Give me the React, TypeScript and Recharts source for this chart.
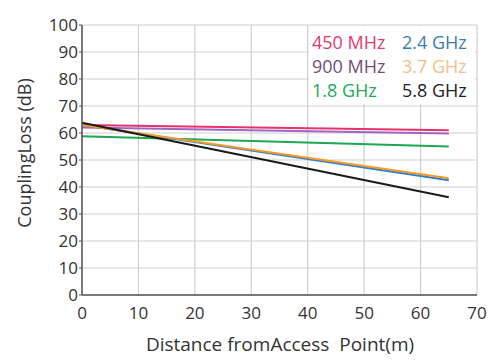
import React from "react";
import {
  LineChart,
  Line,
  XAxis,
  YAxis,
  CartesianGrid,
  Legend,
} from "recharts";

const distances = [0, 65];
const loss450 = [63, 61];
const loss900 = [62, 59.8];
const loss1800 = [58.8, 55];
const loss2400 = [63, 42.5];
const loss3700 = [63, 43.2];
const loss5800 = [63.8, 36.2];

const xTicks = [0, 10, 20, 30, 40, 50, 60, 70];
const yTicks = [0, 10, 20, 30, 40, 50, 60, 70, 80, 90, 100];

const series = [
  { key: "f1800", name: "1.8 GHz", color: "#1da653", text: "#22a85a", values: loss1800 },
  { key: "f900", name: "900 MHz", color: "#a066c0", text: "#6e4f78", values: loss900 },
  { key: "f450", name: "450 MHz", color: "#e8306a", text: "#e23a6c", values: loss450 },
  { key: "f2400", name: "2.4 GHz", color: "#2a7fcf", text: "#3d7ea6", values: loss2400 },
  { key: "f3700", name: "3.7 GHz", color: "#f49a28", text: "#f0c088", values: loss3700 },
  { key: "f5800", name: "5.8 GHz", color: "#1a1a1a", text: "#222222", values: loss5800 },
];

// legend reads column by column: 450/900/1.8 then 2.4/3.7/5.8
const legendOrder = ["f450", "f900", "f1800", "f2400", "f3700", "f5800"];

const data = distances.map((d, i) => {
  const row: any = { dist: d };
  series.forEach((s) => (row[s.key] = s.values[i]));
  return row;
});

const FONT = "'Open Sans', sans-serif";

const LegendBox = () => (
  <div
    style={{
      display: "grid",
      gridTemplateColumns: "90px 76px",
      gridTemplateRows: "24px 24px 24px",
      gridAutoFlow: "column",
      fontFamily: FONT,
      fontSize: 18,
      lineHeight: "24px",
      paddingLeft: 3,
      paddingTop: 4,
    }}
  >
    {legendOrder.map((k) => {
      const s = series.find((x) => x.key === k)!;
      return (
        <span key={k} style={{ color: s.text, whiteSpace: "nowrap" }}>
          {s.name}
        </span>
      );
    })}
  </div>
);

export default function App() {
  return (
    <div style={{ position: "fixed", left: 0, top: 0, background: "#fff" }}>
      <LineChart
        width={490}
        height={360}
        data={data}
        margin={{ top: 25, right: 13, left: 0, bottom: 15 }}
        style={{ fontFamily: FONT }}
      >
        <CartesianGrid stroke="#cfcfcf" strokeWidth={1.2} />
        <XAxis
          dataKey="dist"
          type="number"
          domain={[0, 70]}
          ticks={xTicks}
          height={50}
          axisLine={{ stroke: "#555", strokeWidth: 1.5 }}
          tickLine={false}
          tickSize={4}
          tickMargin={8}
          tick={{ fill: "#333", fontSize: 17 }}
          label={{
            content: () => (
              <text
                x={280}
                y={351}
                textAnchor="middle"
                fill="#333"
                fontSize={19}
                fontFamily={FONT}
                style={{ whiteSpace: "pre" }}
              >
                Distance fromAccess  Point(m)
              </text>
            ),
          }}
        />
        <XAxis
          xAxisId="top"
          orientation="top"
          type="number"
          domain={[0, 70]}
          height={0}
          tick={false}
          tickLine={false}
          axisLine={{ stroke: "#555", strokeWidth: 1.5 }}
        />
        <YAxis
          domain={[0, 100]}
          ticks={yTicks}
          width={82}
          interval={0}
          axisLine={{ stroke: "#555", strokeWidth: 1.5 }}
          tickLine={{ stroke: "#555" }}
          tickSize={3}
          tickMargin={1}
          tick={{ fill: "#333", fontSize: 17 }}
          label={{
            content: () => (
              <text
                x={31}
                y={153}
                textAnchor="middle"
                fill="#333"
                fontSize={18}
                fontFamily={FONT}
                transform="rotate(-90 31 153)"
              >
                CouplingLoss (dB)
              </text>
            ),
          }}
        />
        <YAxis
          yAxisId="right"
          orientation="right"
          domain={[0, 100]}
          width={0}
          tick={false}
          tickLine={false}
          axisLine={{ stroke: "#555", strokeWidth: 1.5 }}
        />
        <Legend
          layout="vertical"
          align="center"
          verticalAlign="middle"
          content={<LegendBox />}
          wrapperStyle={{
            left: 309,
            top: 26,
            width: 166,
            height: 78,
            background: "#fff",
          }}
        />
        {series.map((s) => (
          <Line
            key={s.key}
            dataKey={s.key}
            name={s.name}
            stroke={s.color}
            strokeWidth={2}
            dot={false}
            isAnimationActive={false}
          />
        ))}
      </LineChart>
    </div>
  );
}
